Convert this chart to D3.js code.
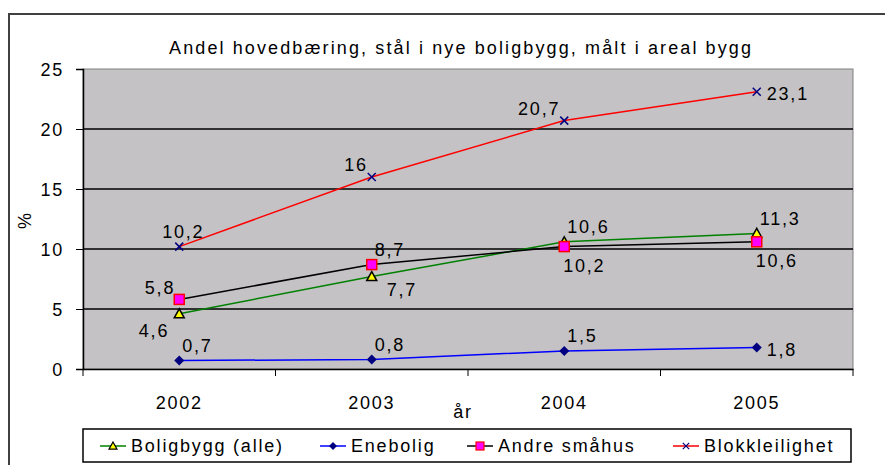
<html>
<style>
    body { margin: 0px; background: #ffffff; }
    text { font-family: "Liberation Sans", Arial, sans-serif; fill: #000; letter-spacing: 1.8px; }
</style>
<body>
<svg id="viz"></svg>
</body>
<script src="https://d3js.org/d3.v7.min.js"></script>
<script>
var years = ["2002", "2003", "2004", "2005"];
var yTicks = [0, 5, 10, 15, 20, 25];
var seriesNames = ["Boligbygg (alle)", "Enebolig", "Andre småhus", "Blokkleilighet"];
var boligbygg = [4.6, 7.7, 10.6, 11.3];
var enebolig = [0.7, 0.8, 1.5, 1.8];
var andreSmahus = [5.8, 8.7, 10.2, 10.6];
var blokk = [10.2, 16, 20.7, 23.1];

// where each data label sits relative to its point
var labelPlace = [
    ["bl", "br", "ar", "ar"],
    ["ar", "ar", "ar", "r"],
    ["al", "ar", "b", "b"],
    ["a", "al", "al", "r"]
];

var width = 885, height = 465;
var svg = d3.select("#viz").attr("width", width).attr("height", height);

var margin = {left: 83, right: 32, top: 69, bottom: 96};
var x = d3.scaleBand().domain(years).range([margin.left, width - margin.right]);
var y = d3.scaleLinear().domain([0, 25]).range([height - margin.bottom, margin.top]);

// outer frame
svg.append("path")
    .attr("d", "M9," + height + "V14H" + width)
    .attr("fill", "none").attr("stroke", "#404040").attr("stroke-width", 2);

// plot area
svg.append("rect")
    .attr("x", margin.left).attr("y", margin.top)
    .attr("width", width - margin.left - margin.right)
    .attr("height", height - margin.top - margin.bottom)
    .attr("fill", "#c4c2c4").attr("stroke", "#808080").attr("stroke-width", 1);

svg.append("g").selectAll("line")
    .data(yTicks.filter(function(d) { return d > 0 && d < 25; }))
    .enter().append("line")
    .attr("x1", margin.left).attr("x2", width - margin.right)
    .attr("y1", function(d) { return y(d); }).attr("y2", function(d) { return y(d); })
    .attr("stroke", "#000").attr("stroke-width", 1.5);

svg.append("text")
    .attr("x", 460).attr("y", 54)
    .attr("text-anchor", "middle")
    .attr("textLength", 582).attr("lengthAdjust", "spacing")
    .style("font-size", "18px").style("letter-spacing", "0px")
    .text("Andel hovedbæring, stål i nye boligbygg, målt i areal bygg");

var yAxis = svg.append("g")
    .attr("transform", "translate(" + margin.left + ",0)")
    .call(d3.axisLeft(y).tickValues(yTicks).tickSize(7).tickPadding(12));
yAxis.selectAll("text").style("font-size", "18px").attr("dy", "0.35em");

var xAxis = svg.append("g")
    .attr("transform", "translate(0," + y(0) + ")")
    .call(d3.axisBottom(x).tickSize(0).tickPadding(27));
xAxis.selectAll("text").style("font-size", "18px");
// ticks between categories
xAxis.selectAll("line.sep")
    .data(d3.range(years.length + 1))
    .enter().append("line").attr("class", "sep")
    .attr("x1", function(i) { return margin.left + i * x.step(); })
    .attr("x2", function(i) { return margin.left + i * x.step(); })
    .attr("y1", 0).attr("y2", 7).attr("stroke", "#000");
svg.selectAll(".domain").attr("stroke", "#000").attr("stroke-width", 1.5);

svg.append("text")
    .attr("transform", "translate(31,220) rotate(-90)")
    .attr("text-anchor", "middle")
    .style("font-size", "18px").text("%");
svg.append("text")
    .attr("x", 463).attr("y", 418)
    .attr("text-anchor", "middle")
    .style("font-size", "18px").text("år");

var series = [
    {name: seriesNames[0], values: boligbygg, line: "#008000", marker: "tri"},
    {name: seriesNames[1], values: enebolig, line: "#0000ff", marker: "diamond"},
    {name: seriesNames[2], values: andreSmahus, line: "#000000", marker: "square"},
    {name: seriesNames[3], values: blokk, line: "#ff0000", marker: "x"}
];

function cx(i) { return x(years[i]) + x.bandwidth() / 2; }

function drawMarker(g, type) {
    if (type == "tri") {
        g.append("path").attr("d", "M0,-5L5,4H-5Z")
            .attr("fill", "#ffff00").attr("stroke", "#000").attr("stroke-width", 1.5);
    } else if (type == "diamond") {
        g.append("path").attr("d", "M0,-5L5,0L0,5L-5,0Z").attr("fill", "#000080");
    } else if (type == "square") {
        g.append("rect").attr("x", -5).attr("y", -5).attr("width", 10).attr("height", 10)
            .attr("fill", "#ff00ff").attr("stroke", "#ff0000").attr("stroke-width", 1.5);
    } else {
        g.append("path").attr("d", "M-4,-4L4,4M-4,4L4,-4")
            .attr("stroke", "#000080").attr("stroke-width", 1.5);
    }
}

var line = d3.line().x(function(d, i) { return cx(i); }).y(function(d) { return y(d); });

series.forEach(function(s) {
    svg.append("path").datum(s.values)
        .attr("d", line).attr("fill", "none")
        .attr("stroke", s.line).attr("stroke-width", 1.5);
});

series.forEach(function(s, si) {
    s.values.forEach(function(v, i) {
        var g = svg.append("g").attr("transform", "translate(" + cx(i) + "," + y(v) + ")");
        drawMarker(g, s.marker);
    });
});

function fmt(v) { return String(v).replace(".", ","); }

series.forEach(function(s, si) {
    s.values.forEach(function(v, i) {
        var p = labelPlace[si][i], px = cx(i), py = y(v);
        var t = svg.append("text").style("font-size", "18px").attr("dy", "0.35em").text(fmt(v));
        var dx = 0, dy = 0, anchor = "middle";
        if (p == "a") { dx = 4; dy = -15; }
        else if (p == "ar") { dx = 3; anchor = "start"; dy = -15; }
        else if (p == "al") { dx = -4; anchor = "end"; dy = -12; }
        else if (p == "bl") { dx = -10; anchor = "end"; dy = 17; }
        else if (p == "br") { dx = 15; anchor = "start"; dy = 13; }
        else if (p == "b") { dx = 20; dy = 19; }
        else if (p == "r") { dx = 10; anchor = "start"; dy = 2; }
        t.attr("x", px + dx).attr("y", py + dy).attr("text-anchor", anchor);
    });
});

// legend
var legend = svg.append("g");
legend.append("rect")
    .attr("x", 83).attr("y", 429).attr("width", 768).attr("height", 33)
    .attr("fill", "#fff").attr("stroke", "#000").attr("stroke-width", 1.5);
var legendX = [100, 320, 467, 673];
series.forEach(function(s, si) {
    var g = legend.append("g").attr("transform", "translate(" + legendX[si] + ",446)");
    g.append("line").attr("x1", 0).attr("x2", 26).attr("stroke", s.line).attr("stroke-width", 1.5);
    var m = g.append("g").attr("transform", "translate(13,0) scale(0.8)");
    drawMarker(m, s.marker);
    g.append("text").attr("x", 31).attr("dy", "0.35em").style("font-size", "18px").text(s.name);
});
</script>
</html>
